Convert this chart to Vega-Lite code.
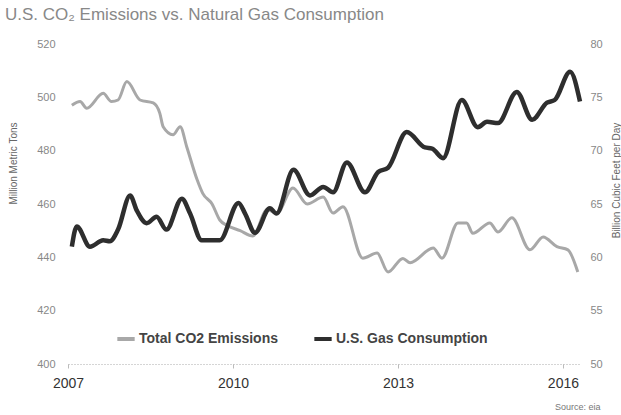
{
  "$schema": "https://vega.github.io/schema/vega-lite/v6.json",
  "width": 512,
  "height": 320,
  "autosize": {"type": "none"},
  "padding": {"left": 68, "top": 44, "right": 41, "bottom": 51},
  "background": "white",
  "title": {
    "text": "U.S. CO₂ Emissions vs. Natural Gas Consumption",
    "anchor": "start",
    "frame": "group",
    "dx": -63,
    "offset": 14,
    "fontSize": 17,
    "fontWeight": "normal",
    "font": "Liberation Sans",
    "color": "#888888"
  },
  "datasets": {
    "co2": [
      {"year": 2007.07, "value": 497.0, "series": "Total CO2 Emissions"},
      {"year": 2007.22, "value": 498.4, "series": "Total CO2 Emissions"},
      {"year": 2007.34, "value": 495.9, "series": "Total CO2 Emissions"},
      {"year": 2007.64, "value": 501.5, "series": "Total CO2 Emissions"},
      {"year": 2007.79, "value": 498.4, "series": "Total CO2 Emissions"},
      {"year": 2007.91, "value": 499.0, "series": "Total CO2 Emissions"},
      {"year": 2008.07, "value": 505.9, "series": "Total CO2 Emissions"},
      {"year": 2008.31, "value": 499.0, "series": "Total CO2 Emissions"},
      {"year": 2008.55, "value": 497.9, "series": "Total CO2 Emissions"},
      {"year": 2008.67, "value": 494.0, "series": "Total CO2 Emissions"},
      {"year": 2008.73, "value": 489.0, "series": "Total CO2 Emissions"},
      {"year": 2008.91, "value": 486.0, "series": "Total CO2 Emissions"},
      {"year": 2009.04, "value": 489.0, "series": "Total CO2 Emissions"},
      {"year": 2009.16, "value": 481.4, "series": "Total CO2 Emissions"},
      {"year": 2009.35, "value": 469.0, "series": "Total CO2 Emissions"},
      {"year": 2009.45, "value": 464.0, "series": "Total CO2 Emissions"},
      {"year": 2009.62, "value": 460.0, "series": "Total CO2 Emissions"},
      {"year": 2009.76, "value": 454.0, "series": "Total CO2 Emissions"},
      {"year": 2009.89, "value": 452.0, "series": "Total CO2 Emissions"},
      {"year": 2010.13, "value": 450.0, "series": "Total CO2 Emissions"},
      {"year": 2010.36, "value": 448.0, "series": "Total CO2 Emissions"},
      {"year": 2010.62, "value": 457.8, "series": "Total CO2 Emissions"},
      {"year": 2010.80, "value": 456.6, "series": "Total CO2 Emissions"},
      {"year": 2011.09, "value": 466.0, "series": "Total CO2 Emissions"},
      {"year": 2011.35, "value": 460.0, "series": "Total CO2 Emissions"},
      {"year": 2011.64, "value": 462.6, "series": "Total CO2 Emissions"},
      {"year": 2011.82, "value": 456.6, "series": "Total CO2 Emissions"},
      {"year": 2012.00, "value": 459.0, "series": "Total CO2 Emissions"},
      {"year": 2012.36, "value": 439.7, "series": "Total CO2 Emissions"},
      {"year": 2012.62, "value": 441.6, "series": "Total CO2 Emissions"},
      {"year": 2012.82, "value": 434.5, "series": "Total CO2 Emissions"},
      {"year": 2013.09, "value": 439.6, "series": "Total CO2 Emissions"},
      {"year": 2013.22, "value": 438.0, "series": "Total CO2 Emissions"},
      {"year": 2013.64, "value": 443.5, "series": "Total CO2 Emissions"},
      {"year": 2013.80, "value": 439.7, "series": "Total CO2 Emissions"},
      {"year": 2014.09, "value": 452.9, "series": "Total CO2 Emissions"},
      {"year": 2014.25, "value": 452.9, "series": "Total CO2 Emissions"},
      {"year": 2014.36, "value": 449.0, "series": "Total CO2 Emissions"},
      {"year": 2014.67, "value": 452.9, "series": "Total CO2 Emissions"},
      {"year": 2014.82, "value": 449.5, "series": "Total CO2 Emissions"},
      {"year": 2015.07, "value": 454.8, "series": "Total CO2 Emissions"},
      {"year": 2015.40, "value": 442.8, "series": "Total CO2 Emissions"},
      {"year": 2015.64, "value": 447.6, "series": "Total CO2 Emissions"},
      {"year": 2015.89, "value": 444.0, "series": "Total CO2 Emissions"},
      {"year": 2016.09, "value": 442.8, "series": "Total CO2 Emissions"},
      {"year": 2016.27, "value": 434.5, "series": "Total CO2 Emissions"}
    ],
    "gas": [
      {"year": 2007.07, "value": 61.0, "series": "U.S. Gas Consumption"},
      {"year": 2007.16, "value": 62.9, "series": "U.S. Gas Consumption"},
      {"year": 2007.40, "value": 61.0, "series": "U.S. Gas Consumption"},
      {"year": 2007.64, "value": 61.6, "series": "U.S. Gas Consumption"},
      {"year": 2007.76, "value": 61.5, "series": "U.S. Gas Consumption"},
      {"year": 2007.91, "value": 62.6, "series": "U.S. Gas Consumption"},
      {"year": 2008.13, "value": 65.8, "series": "U.S. Gas Consumption"},
      {"year": 2008.25, "value": 64.4, "series": "U.S. Gas Consumption"},
      {"year": 2008.43, "value": 63.2, "series": "U.S. Gas Consumption"},
      {"year": 2008.61, "value": 63.8, "series": "U.S. Gas Consumption"},
      {"year": 2008.79, "value": 62.6, "series": "U.S. Gas Consumption"},
      {"year": 2009.07, "value": 65.5, "series": "U.S. Gas Consumption"},
      {"year": 2009.22, "value": 64.1, "series": "U.S. Gas Consumption"},
      {"year": 2009.43, "value": 61.6, "series": "U.S. Gas Consumption"},
      {"year": 2009.76, "value": 61.6, "series": "U.S. Gas Consumption"},
      {"year": 2010.10, "value": 65.1, "series": "U.S. Gas Consumption"},
      {"year": 2010.22, "value": 64.1, "series": "U.S. Gas Consumption"},
      {"year": 2010.40, "value": 62.3, "series": "U.S. Gas Consumption"},
      {"year": 2010.67, "value": 64.6, "series": "U.S. Gas Consumption"},
      {"year": 2010.79, "value": 64.1, "series": "U.S. Gas Consumption"},
      {"year": 2011.10, "value": 68.2, "series": "U.S. Gas Consumption"},
      {"year": 2011.40, "value": 65.8, "series": "U.S. Gas Consumption"},
      {"year": 2011.64, "value": 66.6, "series": "U.S. Gas Consumption"},
      {"year": 2011.82, "value": 66.1, "series": "U.S. Gas Consumption"},
      {"year": 2012.07, "value": 68.9, "series": "U.S. Gas Consumption"},
      {"year": 2012.40, "value": 66.1, "series": "U.S. Gas Consumption"},
      {"year": 2012.64, "value": 68.0, "series": "U.S. Gas Consumption"},
      {"year": 2012.82, "value": 68.4, "series": "U.S. Gas Consumption"},
      {"year": 2013.16, "value": 71.75, "series": "U.S. Gas Consumption"},
      {"year": 2013.49, "value": 70.3, "series": "U.S. Gas Consumption"},
      {"year": 2013.62, "value": 70.2, "series": "U.S. Gas Consumption"},
      {"year": 2013.82, "value": 69.3, "series": "U.S. Gas Consumption"},
      {"year": 2014.16, "value": 74.75, "series": "U.S. Gas Consumption"},
      {"year": 2014.45, "value": 72.2, "series": "U.S. Gas Consumption"},
      {"year": 2014.62, "value": 72.7, "series": "U.S. Gas Consumption"},
      {"year": 2014.82, "value": 72.6, "series": "U.S. Gas Consumption"},
      {"year": 2015.16, "value": 75.5, "series": "U.S. Gas Consumption"},
      {"year": 2015.44, "value": 72.9, "series": "U.S. Gas Consumption"},
      {"year": 2015.71, "value": 74.5, "series": "U.S. Gas Consumption"},
      {"year": 2015.85, "value": 74.75, "series": "U.S. Gas Consumption"},
      {"year": 2016.13, "value": 77.4, "series": "U.S. Gas Consumption"},
      {"year": 2016.31, "value": 74.6, "series": "U.S. Gas Consumption"}
    ]
  },
  "config": {
    "view": {"stroke": null},
    "axis": {"grid": false, "font": "Liberation Sans", "titleFont": "Liberation Sans", "labelFont": "Liberation Sans"}
  },
  "encoding": {
    "x": {
      "field": "year",
      "type": "quantitative",
      "scale": {"domain": [2007, 2016.31], "nice": false, "zero": false},
      "axis": {
        "values": [2007, 2010, 2013, 2016],
        "format": "d",
        "labelFontSize": 14,
        "labelColor": "#333333",
        "labelPadding": 8,
        "labelFlush": false,
        "domainDash": [1, 2],
        "domainColor": "#aaaaaa",
        "tickColor": "#bbbbbb",
        "tickSize": 4,
        "title": "Source: eia",
        "titleFontSize": 9,
        "titleFontWeight": "normal",
        "titleColor": "#777777",
        "titleAnchor": "end",
        "titleAlign": "right",
        "titleBaseline": "middle",
        "titleX": 532,
        "titleY": 42
      }
    },
    "color": {
      "field": "series",
      "type": "nominal",
      "scale": {"domain": ["Total CO2 Emissions", "U.S. Gas Consumption"], "range": ["#a8a8a8", "#2e2e2e"]},
      "legend": {
        "orient": "none",
        "legendX": 47,
        "legendY": 284,
        "direction": "horizontal",
        "title": null,
        "symbolType": "stroke",
        "symbolSize": 300,
        "symbolStrokeWidth": 4,
        "labelFontSize": 14,
        "labelFontWeight": "bold",
        "labelColor": "#444444",
        "labelFont": "Liberation Sans",
        "labelOffset": 2,
        "columnPadding": 28,
        "labelLimit": 300
      }
    }
  },
  "layer": [
    {
      "data": {"name": "co2"},
      "mark": {"type": "line", "interpolate": "monotone", "strokeWidth": 3},
      "encoding": {
        "y": {
          "field": "value",
          "type": "quantitative",
          "scale": {"domain": [400, 520], "nice": false, "zero": false},
          "axis": {
            "values": [400, 420, 440, 460, 480, 500, 520],
            "domain": false,
            "ticks": false,
            "labelPadding": 13,
            "labelFontSize": 11,
            "labelColor": "#888888",
            "title": "Million Metric Tons",
            "titleFontSize": 10,
            "titleFontWeight": "normal",
            "titleColor": "#666666",
            "titleX": -55,
            "titleY": 119,
            "titleAngle": 270,
            "titleAlign": "center",
            "titleBaseline": "middle"
          }
        }
      }
    },
    {
      "data": {"name": "gas"},
      "mark": {"type": "line", "interpolate": "monotone", "strokeWidth": 4.5},
      "encoding": {
        "y": {
          "field": "value",
          "type": "quantitative",
          "scale": {"domain": [50, 80], "nice": false, "zero": false},
          "axis": {
            "orient": "right",
            "values": [50, 55, 60, 65, 70, 75, 80],
            "domain": false,
            "ticks": false,
            "labelPadding": 10,
            "labelFontSize": 11,
            "labelColor": "#888888",
            "title": "Billion Cubic Feet per Day",
            "titleFontSize": 10,
            "titleFontWeight": "normal",
            "titleColor": "#666666",
            "titleX": 36,
            "titleY": 136,
            "titleAngle": 270,
            "titleAlign": "center",
            "titleBaseline": "middle"
          }
        }
      }
    }
  ],
  "resolve": {"scale": {"y": "independent"}}
}
